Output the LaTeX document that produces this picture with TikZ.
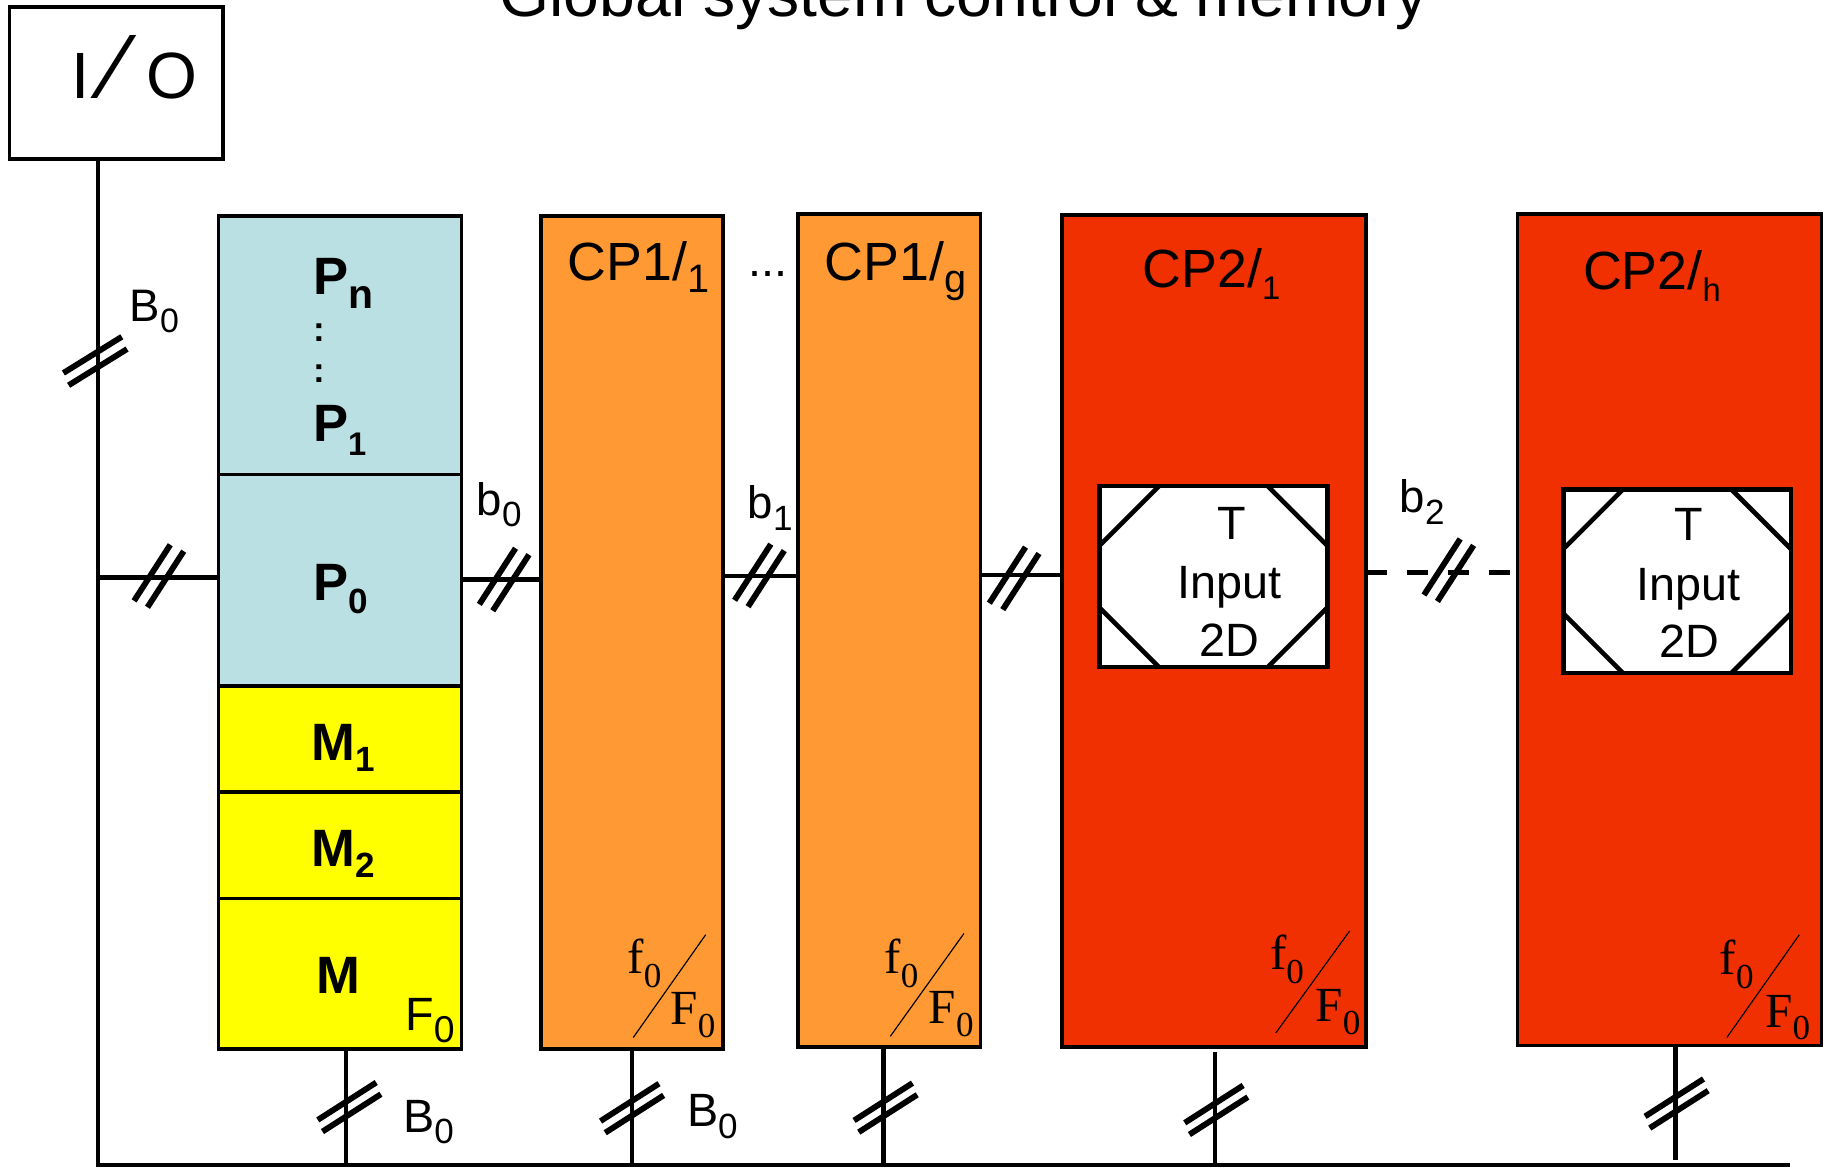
\documentclass[tikz,border=0pt]{standalone}
\usepackage{fontspec}
\usepackage{graphicx}
\setmainfont{Liberation Sans}
\newfontfamily\tnr{Liberation Serif}
\usetikzlibrary{calc}
\definecolor{pblue}{HTML}{BBE0E3}
\definecolor{myyellow}{HTML}{FFFF00}
\definecolor{myorange}{HTML}{FF9933}
\definecolor{myred}{HTML}{F03000}
\newcommand{\fsz}[1]{\fontsize{#1}{#1}\selectfont}
\newcommand{\lsub}[3]{\raisebox{-#1pt}{\fsz{#2}#3}}
\newcommand{\dtick}[6]{%
  \draw[tickline] ({#1-(#5)-(#3)},{#2-(#6)-(#4)}) -- ({#1-(#5)+(#3)},{#2-(#6)+(#4)});
  \draw[tickline] ({#1+(#5)-(#3)},{#2+(#6)-(#4)}) -- ({#1+(#5)+(#3)},{#2+(#6)+(#4)});}
\tikzset{
  box/.style={draw=black, line width=3pt, inner sep=0pt, outer sep=0pt},
  innerbox/.style={draw=black, line width=4pt, fill=white, inner sep=0pt, outer sep=0pt},
  conn/.style={line width=4pt},
  tickline/.style={line width=5pt},
  lbl/.style={inner sep=0pt, outer sep=0pt, anchor=base west},
  ctr/.style={inner sep=0pt, outer sep=0pt, anchor=base},
  thin/.style={line width=1pt},
}
\begin{document}
\begin{tikzpicture}[x=1pt,y=-1pt]
\useasboundingbox[fill=white] (0,0) rectangle (1568,1001);

% title (cut off by the page edge)
\node[ctr] (title) at (825,14) {\fsz{55}Global system control \& memory};

% I/O box
\node[box, minimum width=183, minimum height=130] (io) at (99.5,71) {};
\node[lbl] (iot) at (61,84) {\fsz{56}I\hspace{17pt}\scalebox{1.4}{\char"2044}\hspace{19pt}O};

% processor / memory column
\node[box, fill=pblue, minimum width=208, minimum height=221] (pn) at (291,295.5) {};
\node[box, fill=pblue, minimum width=208, minimum height=181] (p0) at (291,496.5) {};
\node[box, fill=myyellow, minimum width=208, minimum height=91] (m1) at (291,632.5) {};
\node[box, fill=myyellow, minimum width=208, minimum height=91] (m2) at (291,723.5) {};
\node[box, fill=myyellow, minimum width=208, minimum height=129] (m) at (291,833.5) {};

% CP boxes
\node[box, fill=myorange, minimum width=156, minimum height=713] (cp11) at (541,541.5) {};
\node[box, fill=myorange, minimum width=156, minimum height=713] (cp1g) at (761,539.5) {};
\node[box, fill=myred, minimum width=260, minimum height=712] (cp21) at (1039,540) {};
\node[box, fill=myred, minimum width=260, minimum height=712] (cp2h) at (1429,539) {};

% inner T boxes
\node[innerbox, minimum width=195, minimum height=155] (in1) at (1038.5,493.5) {};
\node[innerbox, minimum width=195, minimum height=157] (in2) at (1435.5,497.5) {};
\foreach \X in {in1,in2}{
  \draw[line width=4pt] ([shift={(0,51)}]\X.north west) -- ([shift={(51,0)}]\X.north west);
  \draw[line width=4pt] ([shift={(-51,0)}]\X.north east) -- ([shift={(0,51)}]\X.north east);
  \draw[line width=4pt] ([shift={(0,-51)}]\X.south west) -- ([shift={(51,0)}]\X.south west);
  \draw[line width=4pt] ([shift={(-51,0)}]\X.south east) -- ([shift={(0,-51)}]\X.south east);
}

% bus connectors
\coordinate (busL) at (84,997);
\coordinate (busR) at (1532,997);
\draw[conn] (busL |- io.south) -- (busL) -- (busR);

\coordinate (y0) at (0,494);
\coordinate (y1) at (0,496);
\coordinate (y2) at (0,493);
\coordinate (y3) at (0,492);
\coordinate (y4) at (0,490);
\draw[conn] (busL |- y0) -- (p0.west |- y0);
\draw[conn] (p0.east |- y1) -- (cp11.west |- y1);
\draw[conn] (cp11.east |- y2) -- (cp1g.west |- y2);
\draw[conn] (cp1g.east |- y3) -- (cp21.west |- y3);
\draw[conn, dash pattern=on 18pt off 17pt] (cp21.east |- y4) -- (cp2h.west |- y4);

\coordinate (mb) at ([xshift=5]m.south);
\coordinate (c1b) at (cp11.south);
\coordinate (cgb) at ([xshift=-5]cp1g.south);
\coordinate (c2b) at ([shift={(1,4)}]cp21.south);
\coordinate (chb) at ([xshift=5]cp2h.south);
\coordinate (chend) at ([yshift=4]chb |- busL);
\draw[conn] (mb) -- (mb |- busL);
\draw[conn] (c1b) -- (c1b |- busL);
\draw[conn] (cgb) -- (cgb |- busL);
\draw[conn] (c2b) -- (c2b |- busL);
\draw[conn] (chb) -- (chb |- chend);

% double-slash ticks
\dtick{136}{493}{15.5}{-24}{5.75}{2.75}
\dtick{431.5}{496}{15.5}{-24}{5.75}{2.75}
\dtick{650}{492.5}{15.5}{-24}{5.75}{2.75}
\dtick{868}{495}{15.5}{-24}{5.75}{2.75}
\dtick{1240}{488}{15.5}{-24}{5.75}{2.75}
\dtick{81.5}{309}{25}{-15.5}{2.25}{5.25}
\dtick{299}{947.5}{25}{-16}{2}{5}
\dtick{541}{948.5}{25}{-16}{2}{5}
\dtick{758}{948}{25}{-16}{2}{5}
\dtick{1041}{950}{25}{-16}{2}{5}
\dtick{1435}{944.5}{25}{-16}{2}{5}

% labels on bus
\node[lbl] (bl) at (111,275) {\fsz{39}B\lsub{10}{29}{0}};
\node[lbl] (b0) at (408,441) {\fsz{39}b\lsub{10}{30}{0}};
\node[lbl] (b1) at (640,444) {\fsz{39}b\lsub{10}{30}{1}};
\node[lbl] (b2) at (1198,439) {\fsz{39}b\lsub{10}{30}{2}};
\node[lbl] (bb1) at (345,969) {\fsz{40}B\lsub{10}{30}{0}};
\node[lbl] (bb2) at (588,964) {\fsz{40}B\lsub{10}{30}{0}};
\node[lbl] (dots) at (641,237) {\fsz{40}...};

% processor texts
\node[lbl] (tpn) at (268,252) {\bfseries\fsz{45}P\lsub{12}{35}{n}};
\node[lbl] (col1) at (268,292) {\bfseries\fsz{30}:};
\node[lbl] (col2) at (268,327) {\bfseries\fsz{30}:};
\node[lbl] (tp1) at (268,378) {\bfseries\fsz{45}P\lsub{12}{28}{1}};
\node[lbl] (tp0) at (268,514) {\bfseries\fsz{45}P\lsub{11}{30}{0}};
\node[lbl] (tm1) at (267,651) {\bfseries\fsz{45}M\lsub{9}{30}{1}};
\node[lbl] (tm2) at (267,742) {\bfseries\fsz{45}M\lsub{9}{30}{2}};
\node[lbl] (tm) at (271,850) {\bfseries\fsz{45}M};
\node[lbl] (tf0) at (347,882) {\fsz{40}F\lsub{10}{32}{0}};

% CP titles
\node[lbl] (l11) at (486,240) {\fsz{46}CP1/\lsub{10}{34}{1}};
\node[lbl] (l1g) at (706,240) {\fsz{46}CP1/\lsub{10}{34}{g}};
\node[lbl] (l21) at (978,246) {\fsz{46}CP2/\lsub{10}{28}{1}};
\node[lbl] (l2h) at (1355,248) {\fsz{46}CP2/\lsub{10}{28}{h}};

% T / Input / 2D
\node[ctr] (t1a) at (1054,462) {\fsz{40}T};
\node[ctr] (t1b) at (1052,512) {\fsz{40}Input};
\node[ctr] (t1c) at (1052,562) {\fsz{40}2D};
\node[ctr] (t2a) at (1445,463) {\fsz{40}T};
\node[ctr] (t2b) at (1445,514) {\fsz{40}Input};
\node[ctr] (t2c) at (1446,563) {\fsz{40}2D};

% f0 / F0
\node[lbl] (fa1) at (537,833) {\tnr\fsz{42}f\lsub{12}{30}{0}};
\node[lbl] (Fa1) at (574,877) {\tnr\fsz{42}F\lsub{11}{30}{0}};
\draw[thin] (542,888) -- (604,800);
\node[lbl] (fa2) at (757,833) {\tnr\fsz{42}f\lsub{12}{30}{0}};
\node[lbl] (Fa2) at (795,876) {\tnr\fsz{42}F\lsub{11}{30}{0}};
\draw[thin] (762,887) -- (825,799);
\node[lbl] (fa3) at (1087,830) {\tnr\fsz{42}f\lsub{12}{30}{0}};
\node[lbl] (Fa3) at (1126,874) {\tnr\fsz{42}F\lsub{11}{30}{0}};
\draw[thin] (1092,884) -- (1155,797);
\node[lbl] (fa4) at (1472,834) {\tnr\fsz{42}f\lsub{12}{30}{0}};
\node[lbl] (Fa4) at (1511,879) {\tnr\fsz{42}F\lsub{11}{30}{0}};
\draw[thin] (1478,888) -- (1540,800);
\end{tikzpicture}
\end{document}
